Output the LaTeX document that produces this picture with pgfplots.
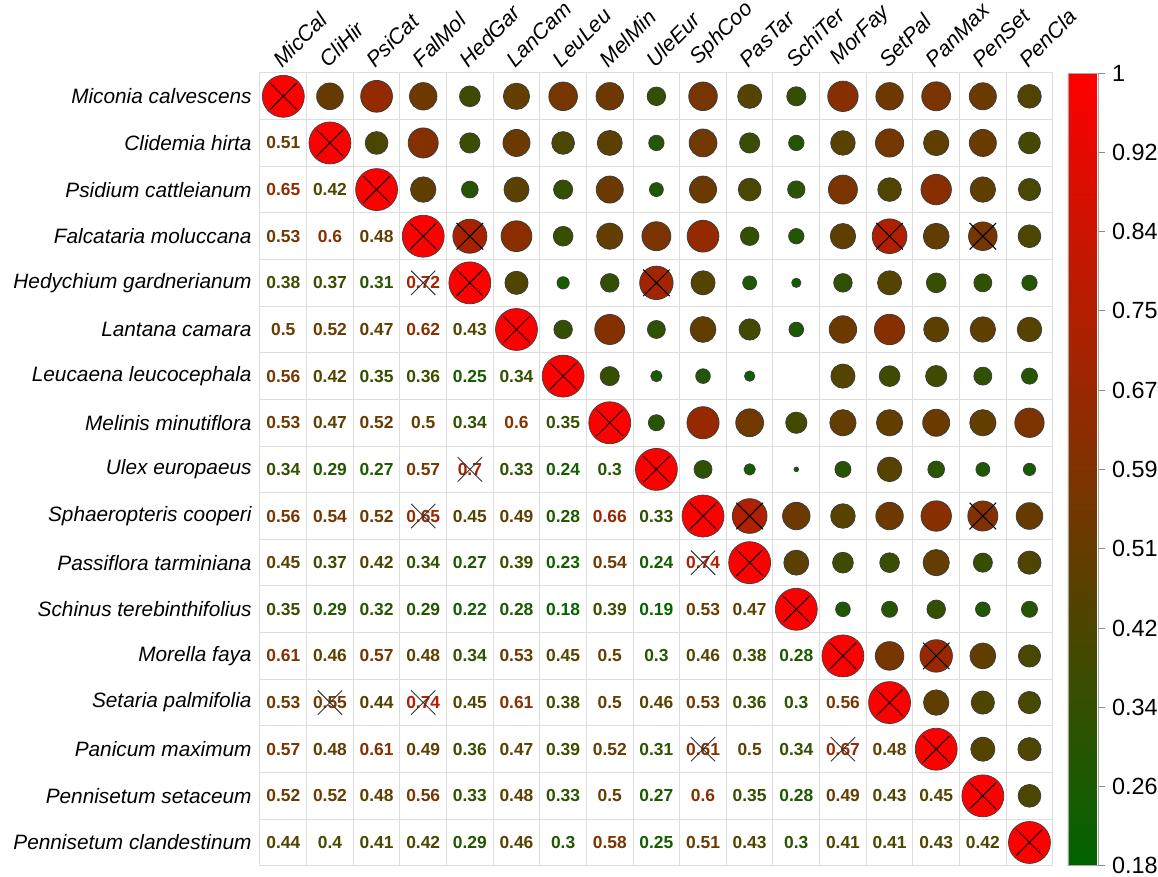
\documentclass[border=0pt]{standalone}
\usepackage{pgfplots}
\usepackage{pgfplotstable}
\pgfplotsset{compat=1.18}
\usepackage{fontspec}
\setmainfont{Liberation Sans}

% lower triangle of the similarity matrix: r = row, c = column, v = value
\pgfplotstableread{
r c v
1 0 0.51
2 0 0.65
2 1 0.42
3 0 0.53
3 1 0.6
3 2 0.48
4 0 0.38
4 1 0.37
4 2 0.31
4 3 0.72
5 0 0.5
5 1 0.52
5 2 0.47
5 3 0.62
5 4 0.43
6 0 0.56
6 1 0.42
6 2 0.35
6 3 0.36
6 4 0.25
6 5 0.34
7 0 0.53
7 1 0.47
7 2 0.52
7 3 0.5
7 4 0.34
7 5 0.6
7 6 0.35
8 0 0.34
8 1 0.29
8 2 0.27
8 3 0.57
8 4 0.7
8 5 0.33
8 6 0.24
8 7 0.3
9 0 0.56
9 1 0.54
9 2 0.52
9 3 0.65
9 4 0.45
9 5 0.49
9 6 0.28
9 7 0.66
9 8 0.33
10 0 0.45
10 1 0.37
10 2 0.42
10 3 0.34
10 4 0.27
10 5 0.39
10 6 0.23
10 7 0.54
10 8 0.24
10 9 0.74
11 0 0.35
11 1 0.29
11 2 0.32
11 3 0.29
11 4 0.22
11 5 0.28
11 6 0.18
11 7 0.39
11 8 0.19
11 9 0.53
11 10 0.47
12 0 0.61
12 1 0.46
12 2 0.57
12 3 0.48
12 4 0.34
12 5 0.53
12 6 0.45
12 7 0.5
12 8 0.3
12 9 0.46
12 10 0.38
12 11 0.28
13 0 0.53
13 1 0.55
13 2 0.44
13 3 0.74
13 4 0.45
13 5 0.61
13 6 0.38
13 7 0.5
13 8 0.46
13 9 0.53
13 10 0.36
13 11 0.3
13 12 0.56
14 0 0.57
14 1 0.48
14 2 0.61
14 3 0.49
14 4 0.36
14 5 0.47
14 6 0.39
14 7 0.52
14 8 0.31
14 9 0.61
14 10 0.5
14 11 0.34
14 12 0.67
14 13 0.48
15 0 0.52
15 1 0.52
15 2 0.48
15 3 0.56
15 4 0.33
15 5 0.48
15 6 0.33
15 7 0.5
15 8 0.27
15 9 0.6
15 10 0.35
15 11 0.28
15 12 0.49
15 13 0.43
15 14 0.45
16 0 0.44
16 1 0.4
16 2 0.41
16 3 0.42
16 4 0.29
16 5 0.46
16 6 0.3
16 7 0.58
16 8 0.25
16 9 0.51
16 10 0.43
16 11 0.3
16 12 0.41
16 13 0.41
16 14 0.43
16 15 0.42
}\pairs

% diagonal
\pgfplotstableread{
r c v
0 0 1
1 1 1
2 2 1
3 3 1
4 4 1
5 5 1
6 6 1
7 7 1
8 8 1
9 9 1
10 10 1
11 11 1
12 12 1
13 13 1
14 14 1
15 15 1
16 16 1
}\diagonal

% crossed cells above the diagonal
\pgfplotstableread{
r c
3 4
3 13
3 15
4 8
9 10
9 15
12 14
}\crossup

% crossed cells below the diagonal
\pgfplotstableread{
r c
4 3
8 4
9 3
10 9
13 1
13 3
14 9
14 12
}\crosslow

\definecolor{gridgray}{RGB}{221,221,221}
\definecolor{rimgray}{RGB}{60,60,60}

\begin{document}
\begin{tikzpicture}
\begin{axis}[
  at={(130pt,402pt)}, anchor=north west,
  scale only axis,
  width=396.4pt, height=396.4pt,
  xmin=-0.5, xmax=16.5, ymin=-0.5, ymax=16.5,
  axis line style={gridgray, line width=0.5pt},
  xtick={0,...,16}, ytick={0,...,16},
  major tick length=0pt, minor tick length=0pt,
  minor xtick={-0.5,0.5,...,16.5},
  minor ytick={-0.5,0.5,...,16.5},
  xminorgrids=true, yminorgrids=true,
  minor grid style={gridgray, line width=0.5pt},
  xticklabel pos=upper,
  xticklabels={MicCal,CliHir,PsiCat,FalMol,HedGar,LanCam,LeuLeu,MelMin,UleEur,SphCoo,PasTar,SchiTer,MorFay,SetPal,PanMax,PenSet,PenCla},
  yticklabels={Pennisetum clandestinum,Pennisetum setaceum,Panicum maximum,Setaria palmifolia,Morella faya,Schinus terebinthifolius,Passiflora tarminiana,Sphaeropteris cooperi,Ulex europaeus,Melinis minutiflora,Leucaena leucocephala,Lantana camara,Hedychium gardnerianum,Falcataria moluccana,Psidium cattleianum,Clidemia hirta,Miconia calvescens},
  xticklabel style={font=\fontsize{10.8}{12}\selectfont\itshape, rotate=45, anchor=south west, inner sep=0pt, yshift=1.8pt, xshift=1pt},
  yticklabel style={font=\fontsize{10.4}{12}\selectfont\itshape, anchor=east, inner sep=0pt, xshift=-4pt},
  colormap={greenred}{rgb255=(0,100,0) rgb255=(255,0,0)},
  point meta min=0.18, point meta max=1,
  colorbar,
  colorbar shift/.style={xshift=7.5pt},
  colorbar style={
    at={(parent axis.north east)}, anchor=north west,
    scale only axis, width=15pt, height=396.4pt,
    ytick={0.18,0.262,0.344,0.426,0.508,0.59,0.672,0.754,0.836,0.918,1},
    yticklabels={0.18,0.26,0.34,0.42,0.51,0.59,0.67,0.75,0.84,0.92,1},
    ytick pos=right, yticklabel pos=right,
    tick align=outside, major tick length=3.5pt,
    tick style={draw=black!45, line width=0.4pt},
    axis line style={draw=black!35, line width=0.3pt},
    yticklabel style={font=\fontsize{11.7}{13}\selectfont, inner sep=0pt, xshift=3.5pt},
  },
  clip=false,
]
% circles above the diagonal, area growing with the value
\addplot[scatter, only marks, mark=*, point meta=explicit,
  scatter/use mapped color={draw=rimgray, fill=mapped color},
  visualization depends on={10.49*sqrt(max(\thisrow{v}-0.18,0)/0.82) \as \circrad},
  scatter/@pre marker code/.append style={/tikz/mark size=\circrad, /tikz/line width=0.35pt}]
  table[x=r, y expr=16-\thisrow{c}, meta=v] \pairs;

% diagonal
\addplot[only marks, mark=*, mark size=10.49pt,
  mark options={draw=rimgray, fill=red, line width=0.35pt}]
  table[x=c, y expr=16-\thisrow{r}] \diagonal;

% values below the diagonal, coloured on the same scale
\addplot[scatter, only marks, point meta=explicit,
  scatter/use mapped color={color=mapped color},
  visualization depends on={\thisrow{v} \as \cellval},
  mark=text, text mark as node=true,
  text mark={\pgfmathprintnumber[fixed, precision=2, assume math mode=true]{\cellval}},
  text mark style={font=\fontsize{8.7}{10}\selectfont\bfseries, inner sep=0pt, anchor=center}]
  table[x=c, y expr=16-\thisrow{r}, meta=v] \pairs;

% crosses
\addplot[only marks, mark=x, mark size=9.4pt, mark options={draw=black, line width=0.5pt}]
  table[x=c, y expr=16-\thisrow{r}] \diagonal;
\addplot[only marks, mark=x, mark size=9.4pt, mark options={draw=black, line width=0.5pt}]
  table[x=c, y expr=16-\thisrow{r}] \crossup;
\addplot[only marks, mark=x, mark size=8.6pt, mark options={draw=black!80, line width=0.45pt}]
  table[x=c, y expr=16-\thisrow{r}] \crosslow;
\end{axis}
\pgfresetboundingbox
\path[use as bounding box] (0,0) rectangle (579pt,438.5pt);
\end{tikzpicture}
\end{document}
